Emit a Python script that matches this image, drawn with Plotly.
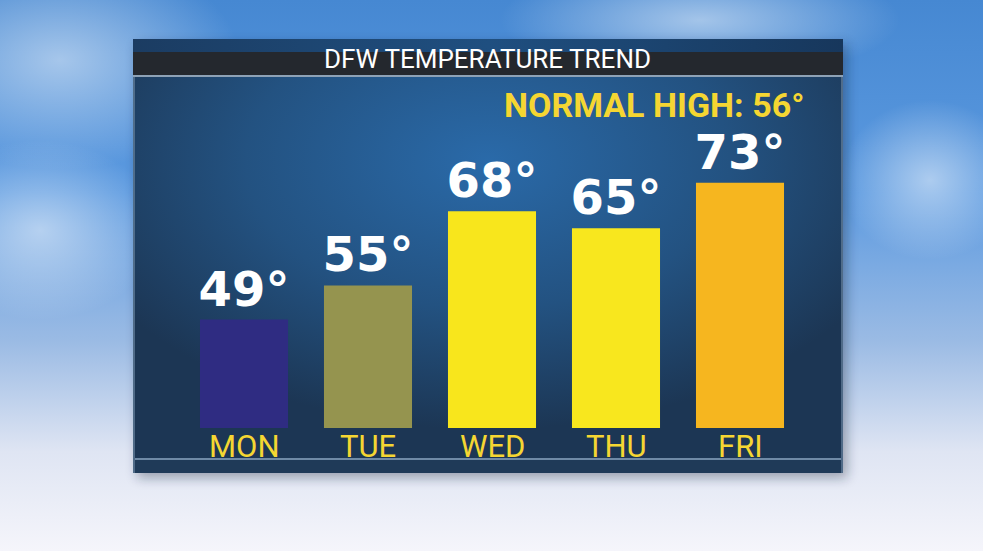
import base64
import plotly.graph_objects as go

days = ["MON", "TUE", "WED", "THU", "FRI"]
highs = [49, 55, 68, 65, 73]
value_labels = ["49°", "55°", "68°", "65°", "73°"]
bar_colors = ["#2f2c82", "#95944f", "#f8e61c", "#f8e71e", "#f6b61f"]
title_text = "DFW TEMPERATURE TREND"
normal_text = "NORMAL HIGH: 56°"

W, H = 983, 551
L, R, T, B = 182, 181, 80, 123          # plot area: x 182..802, y 80..428
PW, PH = W - L - R, H - T - B

svg = f"""<svg xmlns='http://www.w3.org/2000/svg' width='{W}' height='{H}' viewBox='0 0 {W} {H}'>
<defs>
<linearGradient id='sky' x1='0' y1='0' x2='0' y2='1'>
<stop offset='0' stop-color='#4688d2'/>
<stop offset='0.35' stop-color='#5c9ae0'/>
<stop offset='0.62' stop-color='#9bbbe4'/>
<stop offset='0.82' stop-color='#dfe5f3'/>
<stop offset='1' stop-color='#f5f5fb'/>
</linearGradient>
<radialGradient id='cloud1' cx='0.5' cy='0.5' r='0.5'>
<stop offset='0' stop-color='#ffffff' stop-opacity='0.5'/>
<stop offset='1' stop-color='#ffffff' stop-opacity='0'/>
</radialGradient>
<radialGradient id='body' cx='0.5' cy='0.28' r='0.62'>
<stop offset='0' stop-color='#2a6aa9'/>
<stop offset='0.55' stop-color='#235281'/>
<stop offset='1' stop-color='#1c3654'/>
</radialGradient>
<linearGradient id='topband' x1='0' y1='0' x2='1' y2='0'>
<stop offset='0' stop-color='#1b3c62'/>
<stop offset='0.5' stop-color='#1f4f80'/>
<stop offset='1' stop-color='#17375c'/>
</linearGradient>
<filter id='blur'><feGaussianBlur stdDeviation='6'/></filter>
</defs>
<rect x='0' y='0' width='{W}' height='{H}' fill='url(#sky)'/>
<ellipse cx='60' cy='60' rx='180' ry='110' fill='url(#cloud1)'/>
<ellipse cx='40' cy='230' rx='120' ry='90' fill='url(#cloud1)'/>
<ellipse cx='700' cy='20' rx='200' ry='60' fill='url(#cloud1)'/>
<ellipse cx='930' cy='180' rx='90' ry='80' fill='url(#cloud1)'/>
<rect x='137' y='44' width='710' height='434' fill='#0a1a30' opacity='0.35' filter='url(#blur)'/>
<rect x='133' y='39' width='710' height='434' fill='url(#body)'/>
<rect x='133' y='39' width='710' height='14' fill='url(#topband)'/>
<rect x='133' y='52' width='710' height='23' fill='#24282e'/>
<rect x='133' y='75' width='710' height='2' fill='#8ea2b6'/>
<rect x='133' y='77' width='2' height='396' fill='#5d7894' opacity='0.8'/>
<rect x='841' y='77' width='2' height='396' fill='#5d7894' opacity='0.8'/>
<rect x='135' y='458' width='706' height='2' fill='#6f8aa6'/>
<rect x='135' y='460' width='706' height='13' fill='#1f3a58'/>
</svg>"""
bg_uri = "data:image/svg+xml;base64," + base64.b64encode(svg.encode()).decode()


def px(x):
    return (x - L) / PW


def py(y):
    return (H - B - y) / PH


COND = "Roboto"

fig = go.Figure()
fig.add_trace(go.Bar(
    x=days, y=highs,
    marker=dict(color=bar_colors, line=dict(width=0)),
    text=value_labels, textposition="outside", constraintext="none",
    textfont=dict(family="DejaVu Sans", size=48, color="white", weight="bold"),
    hoverinfo="skip",
))

fig.add_layout_image(dict(source=bg_uri, xref="paper", yref="paper",
                          x=px(0), y=py(0), sizex=W / PW, sizey=H / PH,
                          sizing="stretch", layer="below",
                          xanchor="left", yanchor="top"))

fig.add_annotation(text=title_text, x=px(487), y=py(59), xref="paper", yref="paper",
                   showarrow=False, xanchor="center", yanchor="middle",
                   font=dict(family=COND, size=26, color="white"))
fig.add_annotation(text=normal_text, x=px(806), y=py(105), xref="paper", yref="paper",
                   showarrow=False, xanchor="right", yanchor="middle",
                   font=dict(family=COND, size=34, color="#f5d632", weight="bold"))
for d in days:
    fig.add_annotation(text=d, x=d, y=py(447), xref="x", yref="paper",
                       showarrow=False, xanchor="center", yanchor="middle",
                       font=dict(family=COND, size=31, color="#f5d632"))

fig.update_layout(
    width=W, height=H,
    margin=dict(l=L, r=R, t=T, b=B, pad=0),
    paper_bgcolor="rgba(0,0,0,0)", plot_bgcolor="rgba(0,0,0,0)",
    bargap=0.29, showlegend=False,
    xaxis=dict(showgrid=False, zeroline=False, showline=False, ticks="",
               showticklabels=False),
    yaxis=dict(range=[30, 91], showgrid=False, zeroline=False, showline=False,
               showticklabels=False, ticks=""),
)

fig.write_html("out.html", config={"displayModeBar": False},
               post_script="document.body.style.margin='0';document.body.style.overflow='hidden';")
